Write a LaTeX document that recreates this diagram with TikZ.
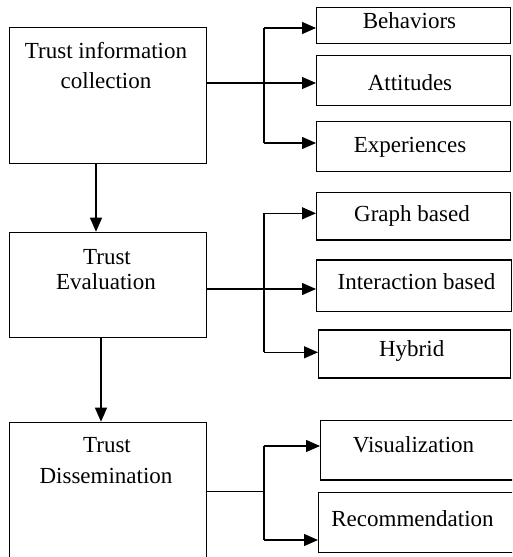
\documentclass[tikz,border=0pt]{standalone}
\usepackage{fontspec}
\setmainfont{Liberation Serif}
\usetikzlibrary{arrows.meta}
\begin{document}
\begin{tikzpicture}[x=1pt,y=-1pt,
  box/.style={draw=black, line width=1.3pt, inner sep=0pt, anchor=north west},
  lbl/.style={anchor=base, inner sep=0pt, font=\fontsize{23}{30}\selectfont},
  conn/.style={line width=1.3pt, draw=black},
  arr/.style={conn, -{Triangle[length=14pt,width=12pt]}}]
\useasboundingbox (0,0) rectangle (512,557);
\clip (0,0) rectangle (512,557);
% left boxes
\node[box, minimum width=197pt, minimum height=136pt] (tic) at (9,27) {};
\node[box, minimum width=197pt, minimum height=105pt] (te) at (9,231.7) {};
\node[box, minimum width=197pt, minimum height=140pt] (td) at (9,421.7) {};
\node[lbl] (tic1) at (106,58) {Trust information};
\node[lbl] (tic2) at (106,88) {collection};
\node[lbl] (te1) at (107,264) {Trust};
\node[lbl] (te2) at (106,289) {Evaluation};
\node[lbl] (td1) at (107,452.7) {Trust};
\node[lbl] (td2) at (106,483) {Dissemination};
% right boxes
\node[box, minimum width=194pt, minimum height=36pt] (beh) at (316,7) {};
\node[box, minimum width=194pt, minimum height=50pt] (att) at (316,55) {};
\node[box, minimum width=194pt, minimum height=50pt] (exp) at (316,121) {};
\node[box, minimum width=194pt, minimum height=47.6pt] (gra) at (316,191.7) {};
\node[box, minimum width=195pt, minimum height=51.7pt] (int) at (316,259.3) {};
\node[box, minimum width=192pt, minimum height=48pt] (hyb) at (318,329.3) {};
\node[box, minimum width=196pt, minimum height=59.3pt] (vis) at (320,420) {};
\node[box, minimum width=198pt, minimum height=60pt] (rec) at (318,491.7) {};
\node[lbl] (beht) at (409.5,28) {Behaviors};
\node[lbl] (attt) at (410,90) {Attitudes};
\node[lbl] (expt) at (410,152) {Experiences};
\node[lbl] (grat) at (412,221) {Graph based};
\node[lbl] (intt) at (416.5,289) {Interaction based};
\node[lbl] (hybt) at (411.7,356) {Hybrid};
\node[lbl] (vist) at (413.5,452.7) {Visualization};
\node[lbl] (rect) at (412.5,526) {Recommendation};
% junctions
\coordinate (j1) at (264,83);
\coordinate (a1) at (264,28);
\coordinate (c1) at (264,143);
\coordinate (j2) at (264,289);
\coordinate (a2) at (264,213.3);
\coordinate (c2) at (264,352.3);
\coordinate (j3) at (264,491.7);
\coordinate (a3) at (264,446);
\coordinate (c3) at (264,540);
\coordinate (v1) at (96,0);
\coordinate (v2) at (101,0);
% group 1
\draw[conn] (a1) -- (c1);
\draw[arr] (tic.east |- j1) -- (j1 -| att.west);
\draw[arr] (a1) -- (a1 -| beh.west);
\draw[arr] (c1) -- (c1 -| exp.west);
% group 2
\draw[conn] (a2) -- (c2);
\draw[arr] (te.east |- j2) -- (j2 -| int.west);
\draw[arr] (a2) -- (a2 -| gra.west);
\draw[arr] (c2) -- (c2 -| hyb.west);
% group 3
\draw[conn] (a3) -- (c3);
\draw[conn] (td.east |- j3) -- (j3);
\draw[arr] (a3) -- (a3 -| vis.west);
\draw[arr] (c3) -- (c3 -| rec.west);
% vertical
\draw[arr] (tic.south -| v1) -- (te.north -| v1);
\draw[arr] (te.south -| v2) -- (td.north -| v2);
\end{tikzpicture}
\end{document}
